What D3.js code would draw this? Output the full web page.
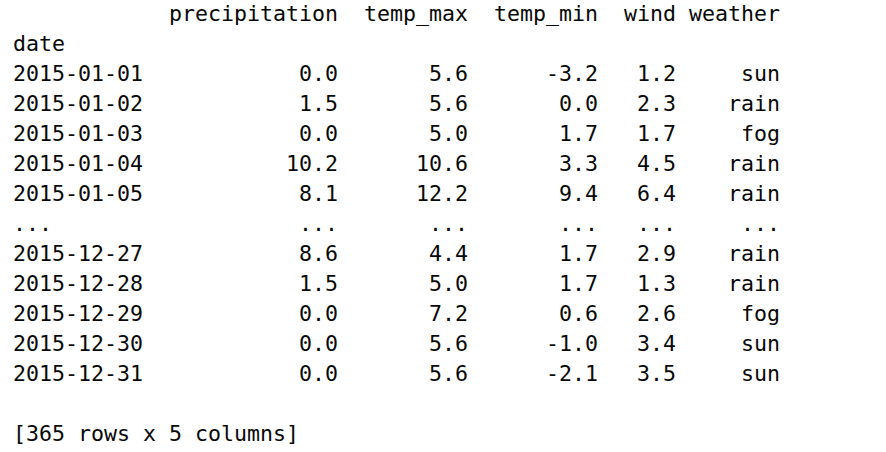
<!DOCTYPE html>
<meta charset="utf-8">
<script src="https://d3js.org/d3.v7.js"></script>
<style>
  body { margin: 0; background: #fff; }
  #frame text {
    font-family: "DejaVu Sans Mono", "Liberation Mono", monospace;
    font-size: 21.6px;
    fill: #080808;
    white-space: pre;
  }
</style>
<body>
<div id="frame"></div>
<script>
  const width = 886, height = 452;

  // dataframe as printed: head(5) ... tail(5)
  const columns = ["precipitation", "temp_max", "temp_min", "wind", "weather"];
  const dates = ["2015-01-01", "2015-01-02", "2015-01-03", "2015-01-04", "2015-01-05",
                 "2015-12-27", "2015-12-28", "2015-12-29", "2015-12-30", "2015-12-31"];
  const precipitation = [0.0, 1.5, 0.0, 10.2, 8.1, 8.6, 1.5, 0.0, 0.0, 0.0];
  const temp_max = [5.6, 5.6, 5.0, 10.6, 12.2, 4.4, 5.0, 7.2, 5.6, 5.6];
  const temp_min = [-3.2, 0.0, 1.7, 3.3, 9.4, 1.7, 1.7, 0.6, -1.0, -2.1];
  const wind = [1.2, 2.3, 1.7, 4.5, 6.4, 2.9, 1.3, 2.6, 3.4, 3.5];
  const weather = ["sun", "rain", "fog", "rain", "rain", "rain", "rain", "fog", "sun", "sun"];
  const nRows = 365, nCols = 5;

  // right edge of each column, in character cells
  const colEnds = [25, 35, 45, 51, 59];

  const x = d3.scaleLinear().domain([0, 1]).range([13, 26]);   // char cell -> px
  const y = d3.scaleLinear().domain([0, 1]).range([21, 51]);   // line -> baseline

  // plain ascii minus like pandas prints
  const locale = d3.formatLocale({
    decimal: ".", thousands: ",", grouping: [3], currency: ["", ""], minus: "-"
  });
  const f = locale.format(".1f");

  const svg = d3.select("#frame")
    .append("svg")
      .attr("width", width)
      .attr("height", height);

  // header
  svg.selectAll("text.head")
    .data(columns)
    .join("text")
      .attr("class", "head")
      .attr("x", (d, i) => x(colEnds[i]))
      .attr("y", y(0))
      .attr("text-anchor", "end")
      .text(d => d);

  svg.append("text")
      .attr("x", x(0))
      .attr("y", y(1))
      .text("date");

  // body lines: 5 head rows, ellipsis, 5 tail rows
  const lines = [];
  dates.forEach((d, i) => {
    lines.push({
      index: d,
      cells: [f(precipitation[i]), f(temp_max[i]), f(temp_min[i]), f(wind[i]), weather[i]]
    });
    if (i == 4) lines.push({ index: "...", cells: ["...", "...", "...", "...", "..."] });
  });

  const row = svg.selectAll("g.row")
    .data(lines)
    .join("g")
      .attr("class", "row")
      .attr("transform", (d, i) => `translate(0, ${y(i + 2)})`);

  row.append("text")
      .attr("x", x(0))
      .text(d => d.index);

  row.selectAll("text.cell")
    .data(d => d.cells)
    .join("text")
      .attr("class", "cell")
      .attr("x", (d, i) => x(colEnds[i]))
      .attr("text-anchor", "end")
      .text(d => d);

  svg.append("text")
      .attr("x", x(0))
      .attr("y", y(lines.length + 3))
      .text(`[${nRows} rows x ${nCols} columns]`);
</script>
</body>
